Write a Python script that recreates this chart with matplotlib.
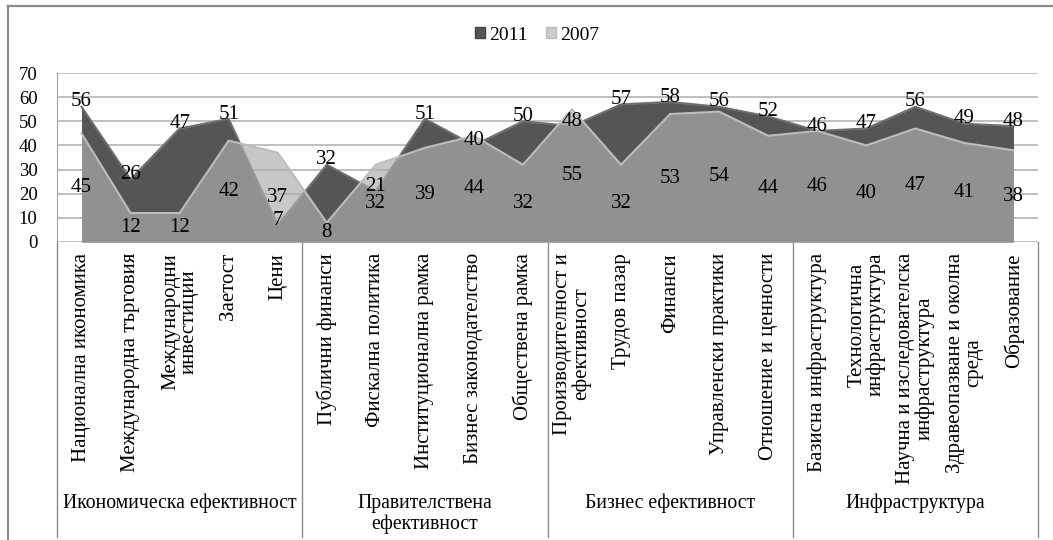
import numpy as np
import matplotlib.pyplot as plt
from matplotlib.patches import Patch
from matplotlib.lines import Line2D

plt.rcParams['font.family'] = 'Liberation Serif'

categories = ["Национална икономика", "Международна търговия", "Международни\nинвестиции",
              "Заетост", "Цени",
              "Публични финанси", "Фискална политика", "Институционална рамка",
              "Бизнес законодателство", "Обществена рамка",
              "Производителност и\nефективност", "Трудов пазар", "Финанси",
              "Управленски практики", "Отношение и ценности",
              "Базисна инфраструктура", "Технологична\nинфраструктура",
              "Научна и изследователска\nинфраструктура", "Здравеопазване и околна\nсреда",
              "Образование"]
groups = ["Икономическа ефективност", "Правителствена\nефективност",
          "Бизнес ефективност", "Инфраструктура"]
group_size = 5

v2011 = [56, 26, 47, 51, 7, 32, 21, 51, 40, 50, 48, 57, 58, 56, 52, 46, 47, 56, 49, 48]
v2007 = [45, 12, 12, 42, 37, 8, 32, 39, 44, 32, 55, 32, 53, 54, 44, 46, 40, 47, 41, 38]

W, H = 1053, 540
fig = plt.figure(figsize=(W / 100, H / 100), dpi=100)
# plot area in pixels: x 57..1038, y 73 (70) .. 242 (0)
ax = fig.add_axes([57 / W, 1 - 242 / H, (1038 - 57) / W, (242 - 73) / H])

x = np.arange(len(categories)) + 0.5
ax.fill_between(x, v2011, color='#555555', lw=0, zorder=2)
ax.plot(x, v2011, color='#6e6e6e', lw=1.5, zorder=2.5)
ax.fill_between(x, v2007, color='#aeaeae', alpha=0.68, lw=0, zorder=3)
ax.plot(x, v2007, color='#bdbdbd', lw=1.5, zorder=3.5)

fs = 15
for xi, a, b in zip(x, v2011, v2007):
    ax.text(xi, a + 2, str(a), ha='center', va='center', fontsize=fs, zorder=5)
    ax.text(xi, b / 2, str(b), ha='center', va='center', fontsize=fs, zorder=5)

ax.set_xlim(0, len(categories))
ax.set_ylim(0, 70)
ax.set_yticks(range(0, 71, 10))
ax.set_xticks([])
ax.grid(axis='y', color='#b4b4b4', lw=1.2, zorder=1)
ax.set_axisbelow(True)
ax.tick_params(axis='y', length=0, pad=14, labelsize=13.5)
for s in ['top', 'right', 'bottom']:
    ax.spines[s].set_visible(False)
ax.spines['left'].set_color('#a0a0a0')

# category labels and group separators below the axis
tr = ax.get_xaxis_transform()
bottom = -(537 - 242) / (242 - 73)
for xi, lab in zip(x, categories):
    ax.text(xi, -11 / 169, lab, transform=tr, rotation=90, ha='center', va='top',
            multialignment='center', fontsize=fs, linespacing=0.95)
for k in range(len(groups) + 1):
    ax.plot([k * group_size, k * group_size], [0, bottom], transform=tr,
            color='#8c8c8c', lw=1, clip_on=False)
for k, g in enumerate(groups):
    ax.text(k * group_size + group_size / 2, -(494 - 242) / 169, g, transform=tr,
            ha='center', va='top', fontsize=14.2, linespacing=1.1)

# legend
handles = [Patch(facecolor='#555555', edgecolor='#444444', label='2011'),
           Patch(facecolor='#cccccc', edgecolor='#bbbbbb', label='2007')]
fig.legend(handles=handles, loc='center', bbox_to_anchor=(537 / W, 1 - 35 / H), ncol=2,
           frameon=False, fontsize=14, handlelength=0.55, handleheight=0.55,
           handletextpad=0.2, columnspacing=0.9)

# outer chart frame
fig.add_artist(Line2D([8 / W, 1], [1 - 5.5 / H, 1 - 5.5 / H], color='#8a8a8a', lw=1.6))
fig.add_artist(Line2D([8 / W, 8 / W], [0, 1 - 5.5 / H], color='#8a8a8a', lw=1.6))

fig.savefig('out.png', dpi=100)
